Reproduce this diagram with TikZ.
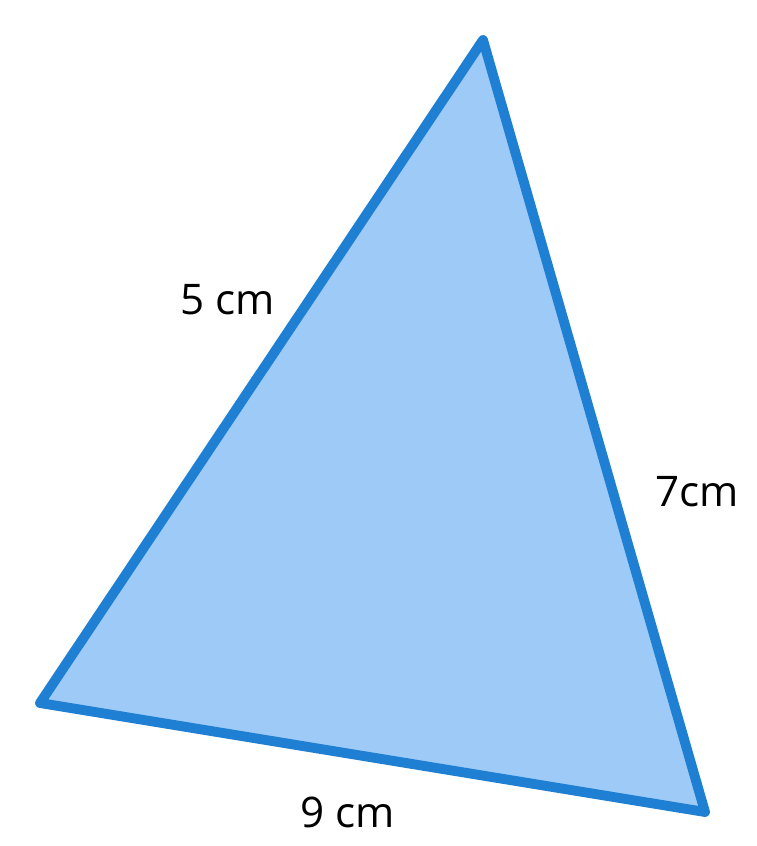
\documentclass[tikz,border=0pt]{standalone}
\usepackage{fontspec}
\setmainfont{Open Sans}
\definecolor{edgeblue}{HTML}{1F7FD2}
\definecolor{fillblue}{HTML}{9ECAF8}
\begin{document}
\begin{tikzpicture}[line join=round, line cap=round]
			\tikzset{every node/.style={font=\fontsize{12}{14}\selectfont}}
			\useasboundingbox (0,0) rectangle (7.57,8.46);
			\coordinate (A) at (4.83,8.06);
			\coordinate (B) at (0.40,1.43);
			\coordinate (C) at (7.05,0.34);
			\draw[edgeblue,line width=2.8pt,fill=fillblue] (A)--(B)--(C)--cycle;
			\node (ab) at (2.28,5.46) {5 cm};
			\node (ac) at (6.97,3.54) {7cm};
			\node (bc) at (3.48,0.34) {9 cm};
		\end{tikzpicture}
\end{document}
